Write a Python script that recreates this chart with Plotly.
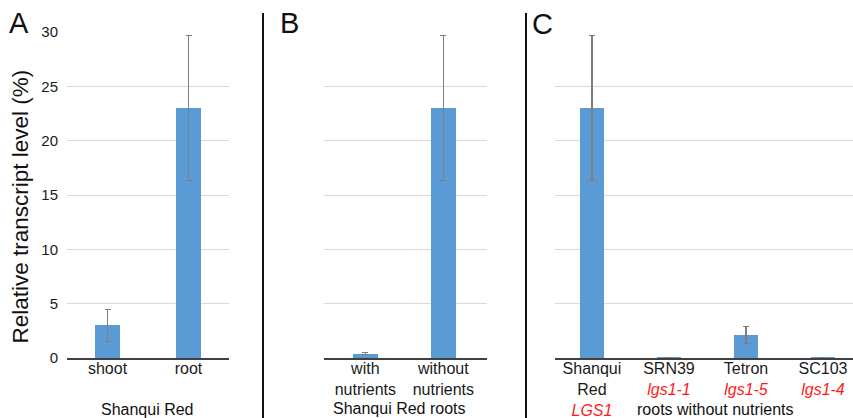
import plotly.graph_objects as go

# ---- data ----
a_cats = ["shoot", "root"]
a_vals = [3.0, 23.0]
a_err = [1.5, 6.7]

b_cats = ["with<br>nutrients", "without<br>nutrients"]
b_vals = [0.4, 23.0]
b_err = [0.1, 6.7]

c_cats = ["Shanqui<br>Red", "SRN39", "Tetron", "SC103"]
c_alleles = ["LGS1", "lgs1-1", "lgs1-5", "lgs1-4"]
c_vals = [23.0, 0.05, 2.1, 0.05]
c_err = [6.7, 0.0, 0.8, 0.0]

y_ticks = [0, 5, 10, 15, 20, 25, 30]

# ---- style ----
W, H = 853, 418
FONT = "Arial, Liberation Sans, sans-serif"
BAR = "#5B9BD5"
ERR = "#7f7f7f"
GRID = "#d9d9d9"
AXIS = "#404040"
RED = "#ff1a1a"

def px_x(p):
    return p / W

def px_y(p):
    return 1 - p / H

fig = go.Figure()

def add_bars(cats, vals, err, xa, ya, width):
    fig.add_trace(go.Bar(
        x=cats, y=vals, xaxis=xa, yaxis=ya, width=width,
        marker=dict(color=BAR, line=dict(width=0)),
        error_y=dict(type="data", array=err, color=ERR, thickness=1.2, width=3),
        showlegend=False,
    ))

add_bars(a_cats, a_vals, a_err, "x", "y", 0.31)
add_bars(b_cats, b_vals, b_err, "x2", "y2", 0.32)
add_bars(c_cats, c_vals, c_err, "x3", "y3", 0.32)

c_text = [f"{c}<br><span style='color:{RED}'><i>{a}</i></span>" for c, a in zip(c_cats, c_alleles)]

ydom = [px_y(358), px_y(32)]

def xaxis(domain, rng, tickvals, ticktext):
    return dict(
        domain=domain, range=rng, type="category",
        tickmode="array", tickvals=tickvals, ticktext=ticktext,
        showline=True, linecolor=AXIS, linewidth=1.5,
        showgrid=False, ticks="", zeroline=False,
        tickfont=dict(family=FONT, size=16, color="#1a1a1a"),
        automargin=False, ticklabelstandoff=-5,
        fixedrange=True,
    )

def yaxis(anchor, show_labels):
    return dict(
        domain=ydom, range=[0, 30], anchor=anchor,
        tickmode="array", tickvals=y_ticks,
        showticklabels=show_labels, ticks="",
        showgrid=True, gridcolor=GRID, gridwidth=1,
        zeroline=False, showline=False,
        tickfont=dict(family=FONT, size=15, color="#1a1a1a"),
        ticklabelstandoff=8, automargin=False, fixedrange=True,
    )

fig.update_layout(
    width=W, height=H,
    margin=dict(l=0, r=0, t=0, b=0),
    paper_bgcolor="white", plot_bgcolor="white",
    bargap=0,
    xaxis=xaxis([px_x(67), px_x(229)], [-0.5, 1.5], a_cats, a_cats) | dict(anchor="y"),
    yaxis=yaxis("x", True),
    xaxis2=xaxis([px_x(324), px_x(487)], [-0.53, 1.56], b_cats, b_cats) | dict(anchor="y2"),
    yaxis2=yaxis("x2", False),
    xaxis3=xaxis([px_x(555), 1.0], [-0.48, 3.39], c_cats, c_text) | dict(anchor="y3"),
    yaxis3=yaxis("x3", False),
)

# panel separators
for xp in [263, 526]:
    fig.add_shape(type="line", xref="paper", yref="paper",
                  x0=px_x(xp), x1=px_x(xp), y0=0, y1=px_y(13),
                  line=dict(color="#111111", width=2))

anns = [
    dict(text="A", x=px_x(19), y=px_y(23), size=29),
    dict(text="B", x=px_x(289), y=px_y(23), size=29),
    dict(text="C", x=px_x(542), y=px_y(24), size=29),
    dict(text="Shanqui Red", x=px_x(147), y=px_y(409), size=16),
    dict(text="Shanqui Red roots", x=px_x(399), y=px_y(408), size=16),
    dict(text="roots without nutrients", x=px_x(715), y=px_y(409), size=16),
]
for a in anns:
    fig.add_annotation(text=a["text"], x=a["x"], y=a["y"], xref="paper", yref="paper",
                       xanchor="center", yanchor="middle", showarrow=False,
                       font=dict(family=FONT, size=a["size"], color="#111111"))

fig.add_annotation(text="Relative transcript level (%)", x=px_x(19.5), y=px_y(207),
                   xref="paper", yref="paper", textangle=-90, showarrow=False,
                   xanchor="center", yanchor="middle",
                   font=dict(family=FONT, size=22.5, color="#111111"))

fig.write_html("out.html",
               config={"displayModeBar": False},
               post_script="document.body.style.margin='0';document.body.style.overflow='hidden';")
